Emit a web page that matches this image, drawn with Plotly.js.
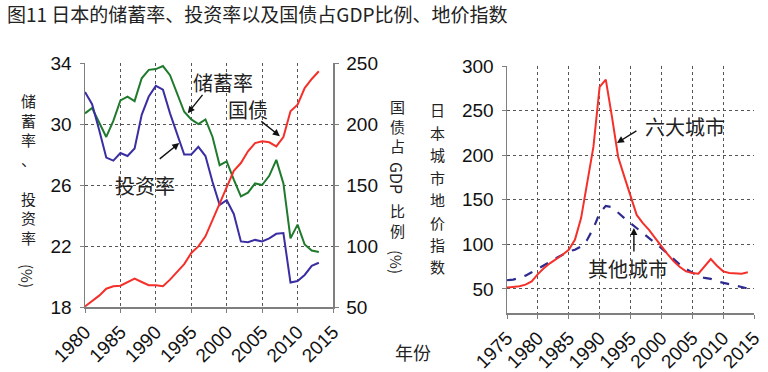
<!DOCTYPE html>
<html><head><meta charset="utf-8">
<script src="https://cdn.plot.ly/plotly-3.0.1.min.js"></script>
<style>html,body{margin:0;padding:0;background:#fff}#chart{width:768px;height:372px}</style>
</head><body><div id="chart"></div>
<script>
// ---- data: left panel (saving / investment rate %, government debt % of GDP)
const yearsL = [1980,1981,1982,1983,1984,1985,1986,1987,1988,1989,1990,1991,1992,1993,1994,1995,1996,1997,1998,1999,2000,2001,2002,2003,2004,2005,2006,2007,2008,2009,2010,2011,2012,2013];
const investment = [32.1,31.3,29.6,27.8,27.6,28.1,27.9,28.4,30.6,31.8,32.5,32.25,30.7,29.4,28.0,28.0,28.5,27.9,26.2,24.7,25.0,24.1,22.3,22.25,22.4,22.3,22.5,22.8,22.85,19.6,19.7,20.1,20.7,20.9];
const savings = [30.7,31.05,30.1,29.15,30.2,31.55,31.8,31.5,33.0,33.55,33.6,33.8,33.2,32.0,30.8,30.3,30.0,30.3,29.15,27.3,27.55,26.35,25.25,25.5,26.1,26.0,26.6,27.65,26.1,22.5,23.4,22.1,21.7,21.6];
const debt = [50.5,54.6,59.3,65,67,67.5,70.2,73.2,70.5,67.8,67.8,67,72.4,78.7,85.2,94.3,99.7,107.9,121.6,135.2,148.4,161.7,168,177.6,184.4,185.8,185,181.7,189.3,210.4,215.8,229.5,236.9,243.2];
// ---- data: right panel (land price index)
const yearsR = [1975,1976,1977,1978,1979,1980,1981,1982,1983,1984,1985,1986,1987,1988,1989,1990,1991,1992,1993,1994,1995,1996,1997,1998,1999,2000,2001,2002,2003,2004,2005,2006,2007,2008,2009,2010,2011,2012,2013,2014];
const sixCities = [51.5,52.2,53,54.8,58.5,66.6,73.4,79,83.5,88.3,93.9,105,129.4,168.5,209.5,276.5,284.7,243,198,175.9,153.6,133,123.8,116.3,107,97.7,89,80.9,74.6,69.7,67.9,67.1,75.3,83.5,76,69.7,67.9,67.1,67.1,68.6];
const otherCities = [59.7,60.4,62.3,64.9,68.6,72.7,77.2,80.9,84.6,88.4,92.1,94.0,97.7,105.2,118.2,135,143.1,141.6,135,129.4,123.8,118.2,112.6,107,102.2,95.8,89.5,83.5,77.2,72.4,67.9,64.2,62.3,61.2,58.6,56.7,54.8,53.7,52.2,50.4];
// ---- tick labels
const xTicksL = [1980,1985,1990,1995,2000,2005,2010,2015];
const xTicksR = [1975,1980,1985,1990,1995,2000,2005,2010,2015];
const yTicksL = [18,22,26,30,34];
const yTicksL2 = [50,100,150,200,250];
const yTicksR = [50,100,150,200,250,300];
const titleText = '图11 日本的储蓄率、投资率以及国债占GDP比例、地价指数';

const W = 768, H = 372;
const px = x => x / W, py = y => 1 - y / H;
const CJK = '"Noto Sans CJK SC", "Noto Sans", sans-serif';
const NUM = '"Liberation Sans", Arial, sans-serif';
const tickFont = {family: NUM, size: 19, color: '#111'};

const gridAxis = {
  showgrid: true, griddash: 'dot', gridcolor: '#555', gridwidth: 1,
  showline: true, linecolor: '#7f7f7f', linewidth: 1.5,
  ticks: 'outside', ticklen: 4, tickcolor: '#7f7f7f', tickwidth: 1,
  ticklabelstandoff: 4,
  zeroline: false, tickfont: tickFont, fixedrange: true
};

const traces = [
  {x: yearsL, y: savings, type: 'scatter', mode: 'lines', line: {color: '#1f7a2c', width: 2}, xaxis: 'x', yaxis: 'y'},
  {x: yearsL, y: investment, type: 'scatter', mode: 'lines', line: {color: '#3a2ea3', width: 2}, xaxis: 'x', yaxis: 'y'},
  {x: yearsL, y: debt, type: 'scatter', mode: 'lines', line: {color: '#f4302a', width: 2}, xaxis: 'x', yaxis: 'y2'},
  {x: yearsR, y: otherCities, type: 'scatter', mode: 'lines', line: {color: '#2e2b8f', width: 2.2, dash: 'dash'}, xaxis: 'x2', yaxis: 'y3'},
  {x: yearsR, y: sixCities, type: 'scatter', mode: 'lines', line: {color: '#f4302a', width: 2}, xaxis: 'x2', yaxis: 'y3'}
];

const ann = [];
function txt(x, y, text, size, extra) {
  ann.push(Object.assign({xref: 'paper', yref: 'paper', x: px(x), y: py(y), text: text, showarrow: false,
    xanchor: 'center', yanchor: 'middle', font: {family: CJK, size: size, color: '#222'}}, extra || {}));
}
function arrow(xref, yref, x, y, ax, ay) {
  ann.push({xref: xref, yref: yref, x: x, y: y, ax: ax, ay: ay, text: '', showarrow: true,
    arrowhead: 2, arrowsize: 1, arrowwidth: 1.4, arrowcolor: '#111', standoff: 0});
}
const stack = s => s.split('').join('<br>');
// left y title, stacked upright characters (one text block)
txt(28, 169, stack('储蓄率、\u3000投资率'), 15);
txt(28, 276, '(%)', 15, {textangle: 90});
// right y title of left panel
txt(397, 126, stack('国债占'), 15);
txt(397, 178, 'GDP', 16, {textangle: 90});
txt(397, 220, stack('比例'), 15);
txt(397, 262, '(%)', 15, {textangle: 90});
// right panel y title, one character per slot
'日本城市地价指数'.split('').forEach((c, i) => txt(437, 110 + 22.4 * i, c, 15));
txt(413, 352, '年份', 18);
// in-chart labels
txt(223, 82, '储蓄率', 20);
txt(248, 110, '国债', 20);
txt(145, 185, '投资率', 20);
txt(685, 127, '六大城市', 20);
txt(628, 268, '其他城市', 20);
// arrows
arrow('x', 'y', 1994.5, 30.7, 16, -20);
arrow('x', 'y', 1993.3, 28.75, -21, 17);
arrow('x', 'y2', 2007.5, 190, -20, -16);
arrow('x2', 'y3', 1992.8, 213.7, 21, -13);
arrow('x2', 'y3', 1995.55, 118.4, 0, 25);

const layout = {
  width: W, height: H,
  margin: {l: 0, r: 0, t: 0, b: 0},
  paper_bgcolor: '#fff', plot_bgcolor: 'rgba(0,0,0,0)',
  showlegend: false,
  title: {text: titleText, x: px(7), xanchor: 'left', xref: 'paper', y: py(15), yanchor: 'middle', yref: 'paper',
          font: {family: CJK, size: 19, color: '#222'}},
  xaxis: Object.assign({}, gridAxis, {domain: [px(85), px(333)], range: [1980, 2015], anchor: 'y',
          tickvals: xTicksL, ticktext: xTicksL.map(String), tickangle: -45, ticklabelstandoff: 1}),
  yaxis: Object.assign({}, gridAxis, {domain: [py(307), py(63)], range: [18, 34], anchor: 'x',
          tickvals: yTicksL, ticktext: yTicksL.map(String)}),
  yaxis2: Object.assign({}, gridAxis, {overlaying: 'y', side: 'right', anchor: 'x', range: [50, 250], showgrid: false,
          tickvals: yTicksL2, ticktext: yTicksL2.map(String)}),
  xaxis2: Object.assign({}, gridAxis, {domain: [px(507), px(754)], range: [1975, 2015], anchor: 'y3',
          tickvals: xTicksR, ticktext: xTicksR.map(String), tickangle: -45, ticklabelstandoff: 1}),
  yaxis3: Object.assign({}, gridAxis, {domain: [py(313), py(66)], range: [23, 300], anchor: 'x2',
          tickvals: yTicksR, ticktext: yTicksR.map(String)}),
  annotations: ann
};

Plotly.newPlot('chart', traces, layout, {staticPlot: true, displayModeBar: false});
</script>
</body></html>
